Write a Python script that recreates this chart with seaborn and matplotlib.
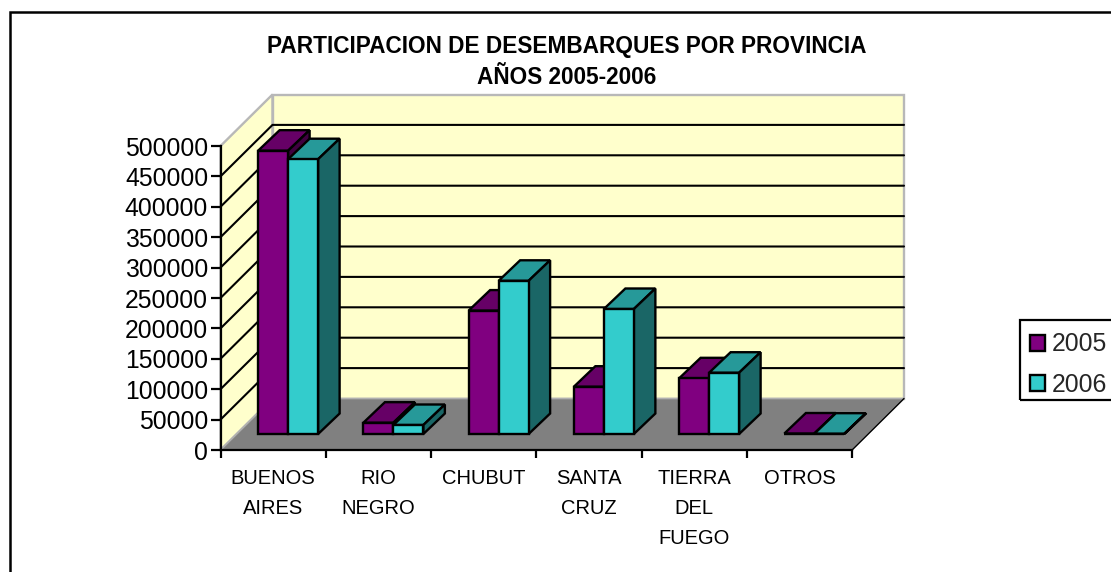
import pandas as pd
import numpy as np
import matplotlib
matplotlib.use("Agg")
import matplotlib.pyplot as plt
from matplotlib.patches import Polygon, Rectangle
import seaborn as sns

provincias = ["BUENOS AIRES", "RIO NEGRO", "CHUBUT", "SANTA CRUZ", "TIERRA DEL FUEGO", "OTROS"]
etiquetas = ["BUENOS\nAIRES", "RIO\nNEGRO", "CHUBUT", "SANTA\nCRUZ", "TIERRA\nDEL\nFUEGO", "OTROS"]
valores_2005 = [466000, 18600, 203000, 77800, 91600, 800]
valores_2006 = [452000, 14800, 252000, 205600, 100800, 500]
anios = ["2005", "2006"]
ticks_y = [0, 50000, 100000, 150000, 200000, 250000, 300000, 350000, 400000, 450000, 500000]

W, H = 1111, 572
colores = {"2005": "#800080", "2006": "#33CCCC"}
techo = {"2005": "#660066", "2006": "#269999"}
lado = {"2005": "#400040", "2006": "#1A6666"}

sns.set_style("white")
plt.rcParams["font.family"] = ["Liberation Sans", "DejaVu Sans"]

df = pd.DataFrame({
    "provincia": provincias * 2,
    "toneladas": valores_2005 + valores_2006,
    "anio": [anios[0]] * 6 + [anios[1]] * 6,
})

fig = plt.figure(figsize=(W / 100, H / 100), dpi=100, facecolor="white")
ax = fig.add_axes([220.5 / W, (H - 450) / H, 631.5 / W, 304 / H])
ax.patch.set_visible(False)

sns.barplot(data=df, x="provincia", y="toneladas", hue="anio", hue_order=anios,
            palette=colores, saturation=1, width=0.57, gap=0, errorbar=None,
            edgecolor="black", linewidth=1.7, ax=ax)
ax.set_xlim(-0.5, 5.5)
ax.set_ylim(0, 500000)

# pixels to data units
px = 6 / 631.5
py = 500000 / 304


def cara(ax, puntos, color, z, borde="black", lw=1.7):
    ax.add_patch(Polygon(puntos, closed=True, facecolor=color, edgecolor=borde,
                         linewidth=lw, zorder=z, clip_on=False, joinstyle="miter"))


# walls and floor
fx, fy = 52 * px, 51.5 * py
x0, x1 = -0.5, 5.5
cara(ax, [(x0, 0), (x0 + fx, fy), (x0 + fx, 500000 + fy), (x0, 500000)], "#FFFFCC", 0.2, "#B8B8B8", 1.7)
cara(ax, [(x0 + fx, fy), (x1 + fx, fy), (x1 + fx, 500000 + fy), (x0 + fx, 500000 + fy)], "#FFFFCC", 0.2, "#B8B8B8", 1.7)
cara(ax, [(x0, 0), (x1, 0), (x1 + fx, fy), (x0 + fx, fy)], "#808080", 0.3, "#B0B0B0", 1.2)
ax.plot([x1, x1 + fx], [0, fy], color="black", lw=1, zorder=0.4, clip_on=False)
for t in ticks_y[1:-1]:
    ax.plot([x0, x0 + fx, x1 + fx], [t, t + fy, t + fy], color="black", lw=1.5,
            zorder=0.5, clip_on=False, solid_joinstyle="miter")

# bars pushed back into the box, with top and side faces
sx, sy = 15 * px, 16 * py
dx, dy = 21.5 * px, 20.5 * py
for j, cont in enumerate(ax.containers):
    anio = anios[j]
    for i, barra in enumerate(cont.patches):
        z = 3 + i + j * 0.5
        barra.set_x(barra.get_x() + sx)
        barra.set_y(sy)
        barra.set_zorder(z + 0.2)
        barra.set_clip_on(False)
        xa, xb = barra.get_x(), barra.get_x() + barra.get_width()
        ya, yb = sy, sy + barra.get_height()
        cara(ax, [(xa, yb), (xb, yb), (xb + dx, yb + dy), (xa + dx, yb + dy)], techo[anio], z)
        cara(ax, [(xb, ya), (xb + dx, ya + dy), (xb + dx, yb + dy), (xb, yb)], lado[anio], z + 0.1)

# axes
sns.despine(ax=ax)
for s in ["left", "bottom"]:
    ax.spines[s].set_linewidth(1.6)
    ax.spines[s].set_color("black")
    ax.spines[s].set_zorder(2)
ax.set_xlabel("")
ax.set_ylabel("")
ax.set_yticks(ticks_y)
ax.set_yticklabels([str(t) for t in ticks_y], fontsize=17.8, color="black")
ax.tick_params(axis="y", length=7, width=1.6, color="black", left=True, pad=2)
ax.set_xticks(range(6))
ax.set_xticklabels(etiquetas, fontsize=14.5, color="black", linespacing=1.72, va="top")
ax.set_xticks(np.arange(7) - 0.5, minor=True)
ax.tick_params(axis="x", which="major", length=0, pad=14)
ax.tick_params(axis="x", which="minor", length=5.5, width=1.6, color="black", bottom=True)

fig.text(567 / W, 1 - 47 / H, "PARTICIPACION DE DESEMBARQUES POR PROVINCIA",
         ha="center", va="center", fontsize=16.3, fontweight="bold", color="black")
fig.text(567 / W, 1 - 78 / H, "AÑOS 2005-2006",
         ha="center", va="center", fontsize=16.3, fontweight="bold", color="black")

# legend, its box is drawn apart since it has to run off the image
handles, labels = ax.get_legend_handles_labels()
ax.legend(handles, labels, loc="upper left", bbox_to_anchor=(1020 / W, 1 - 322 / H),
          bbox_transform=fig.transFigure, borderaxespad=0, fontsize=17.8, frameon=False,
          handlelength=0.6, handleheight=0.6, handletextpad=0.25, labelspacing=0.66,
          borderpad=0.42)
ax.get_legend().set_zorder(20)
fig.add_artist(Rectangle((1020 / W, 1 - 400 / H), 120 / W, 80 / H, fill=False,
                         edgecolor="black", linewidth=1.6, transform=fig.transFigure))

# chart border, runs off the image on the right and bottom
fig.add_artist(Rectangle((10 / W, -20 / H), 1.1, (H - 12 + 20) / H, fill=False,
                         edgecolor="black", linewidth=1.8, transform=fig.transFigure))

fig.savefig("out.png", dpi=100)
